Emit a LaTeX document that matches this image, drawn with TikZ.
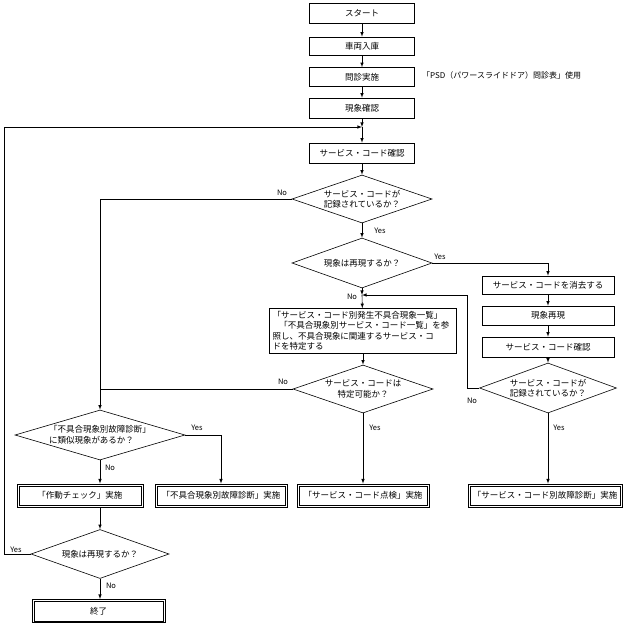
\documentclass[tikz,border=0pt]{standalone}
\usepackage{fontspec}
\setmainfont{Noto Sans CJK JP}
\usepackage{tikz}
\usetikzlibrary{arrows}
\usetikzlibrary{shapes.geometric,positioning}
\tikzset{font={\fontsize{8.5pt}{10.5pt}\selectfont}}
\tikzset{
procbox/.style={draw,line width=0.6pt,minimum height=19pt,inner sep=1pt},
resultbox/.style={procbox,line width=0.9pt,minimum height=23pt},
decision/.style={draw,diamond,aspect=3,inner sep=0pt,line width=0.6pt,align=center},
lbl/.style={font={\fontsize{7.5pt}{9pt}\selectfont},inner sep=0pt},
flow/.style={-latex,line width=0.6pt}
}

\begin{document}
\begin{tikzpicture}[x=1pt,y=-1pt]
\useasboundingbox[fill=white] (0,0) rectangle (625,625);

% main column
\node[procbox,minimum width=105pt,minimum height=20pt] (start) at (362,13) {スタート};
\node[procbox,minimum width=105pt,minimum height=18pt] (nyuko) at (362,46) {車両入庫};
\node[procbox,minimum width=105pt] (monshin) at (362,77) {問診実施};
\node[procbox,minimum width=105pt,minimum height=20pt] (genshou) at (362,108) {現象確認};
\coordinate (j1) at (362,127);
\node[procbox,minimum width=105pt,minimum height=20pt] (sccheck) at (362,153) {サービス・コード確認};
\node[decision,minimum width=140pt,minimum height=48pt] (d1) at (362,199) {サービス・コードが\\記録されているか？};
\node[decision,minimum width=140pt,minimum height=50pt] (d2) at (362,263) {現象は再現するか？};
\coordinate (j2) at (362,295);
\node[procbox,text width=181pt,minimum height=45pt,inner xsep=3pt,align=left] (refbox) at (363,331)
{「サービス・コード別発生不具合現象一覧」\\\hspace{0.8em}「不具合現象別サービス・コード一覧」を参\\照し、不具合現象に関連するサービス・コ\\ドを特定する};
\node[decision,minimum width=140pt,minimum height=48pt] (d3) at (363,389) {サービス・コードは\\特定可能か？};
\node[resultbox,minimum width=132pt] (box3) at (363,495.5) {「サービス・コード点検」実施};

% right column
\node[procbox,minimum width=132pt,minimum height=18pt] (erase) at (548,285) {サービス・コードを消去する};
\node[procbox,minimum width=132pt] (saigen) at (548,315.5) {現象再現};
\node[procbox,minimum width=132pt,minimum height=20pt] (sc2) at (548,347) {サービス・コード確認};
\node[decision,minimum width=137pt,minimum height=50pt] (d6) at (548,388) {サービス・コードが\\記録されているか？};
\node[resultbox,minimum width=154pt] (box4) at (545,495.5) {「サービス・コード別故障診断」実施};

% left column
\node[decision,aspect=3.4,align=left,minimum width=170pt,minimum height=50pt] (d4) at (100,435) {「不具合現象別故障診断」\\に類似現象があるか？};
\node[resultbox,minimum width=126pt] (box1) at (80,495.5) {「作動チェック」実施};
\node[resultbox,minimum width=132pt] (box2) at (221,495.5) {「不具合現象別故障診断」実施};
\node[decision,minimum width=138pt,minimum height=49pt] (d5) at (100,554) {現象は再現するか？};
\node[resultbox,minimum width=133pt,minimum height=23pt] (endbox) at (98.5,611) {終了};

% inner line of the result boxes
\foreach \n in {box1,box2,box3,box4,endbox}
  \draw[line width=0.5pt] ([shift={(2.2pt,2.2pt)}]\n.south west) rectangle ([shift={(-2.2pt,-2.2pt)}]\n.north east);

\node[anchor=west,font={\fontsize{8pt}{10pt}\selectfont},inner sep=0pt] (note) at (422,75) {「PSD（パワースライドドア）問診表」使用};

% connectors
\draw[flow] (start) -- (nyuko);
\draw[flow] (nyuko) -- (monshin);
\draw[flow] (monshin) -- (genshou);
\draw[flow] (genshou) -- (j1);
\draw[flow] (j1) -- (sccheck);
\draw[flow] (sccheck) -- (d1);
\draw[flow] (d1) -- (d2);
\draw[flow] (d1.west) -| (d4.north);
\draw[flow] (d2.east) -| (erase.north);
\draw[flow] (d2.south) -- (j2);
\draw[flow] (j2) -- (refbox);
\draw[flow] (refbox) -- (d3);
\draw[line width=0.6pt] (d3.west) -- (d3.west -| d4.north);
\draw[flow] (d3.south) -- (d3.south |- box3.north);
\draw[flow] (erase) -- (saigen);
\draw[flow] (saigen) -- (sc2);
\draw[flow] (sc2) -- (d6);
\draw[flow] (d6.west) -- ++(-12,0) |- (j2);
\draw[flow] (d6.south) -- (d6.south |- box4.north);
\draw[flow] (d4.south) -- (d4.south |- box1.north);
\draw[flow] (d4.east) -| (box2.north);
\draw[flow] (d5.north |- box1.south) -- (d5.north);
\draw[flow] (d5.south) -- (d5.south |- endbox.north);
\draw[flow] (d5.west) -- ++(-26,0) |- (j1);

% labels
\node[lbl] (no1) at (282,193) {No};
\node[lbl] (yes1) at (380,231) {Yes};
\node[lbl] (yes2) at (440,257) {Yes};
\node[lbl] (no2) at (352,297) {No};
\node[lbl] (no3) at (283,382) {No};
\node[lbl] (yes3) at (375,428) {Yes};
\node[lbl] (no6) at (472,401) {No};
\node[lbl] (yes6) at (559,428) {Yes};
\node[lbl] (yes4) at (197,428) {Yes};
\node[lbl] (no4) at (110,468) {No};
\node[lbl] (yes5) at (16,550) {Yes};
\node[lbl] (no5) at (111,586) {No};
\end{tikzpicture}
\end{document}
